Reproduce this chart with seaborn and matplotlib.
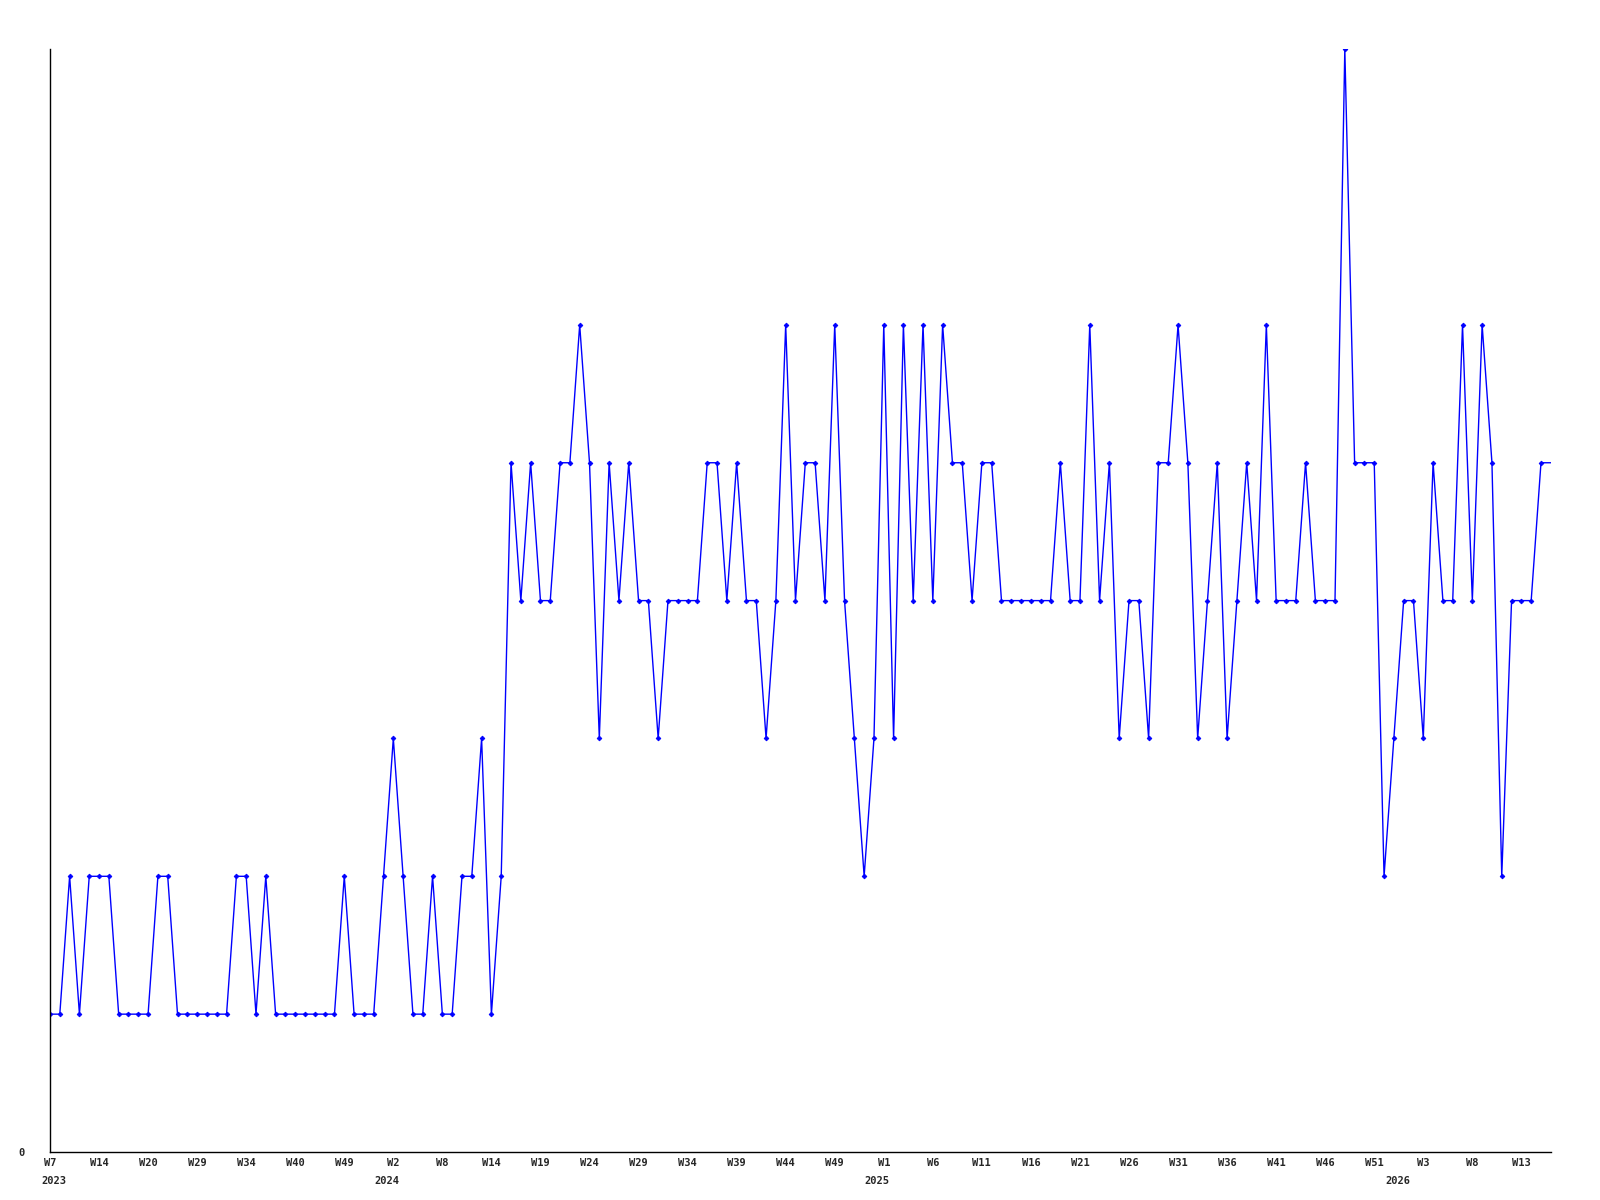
import matplotlib
matplotlib.use("Agg")
import matplotlib.pyplot as plt
import seaborn as sns
import numpy as np

# valores semanales (W7 2023 -> 2026)
valores = [1, 1, 2, 1, 2, 2, 2, 1, 1, 1, 1, 2, 2, 1, 1, 1, 1, 1, 1, 2, 2, 1,
           2, 1, 1, 1, 1, 1, 1, 1, 2, 1, 1, 1, 2, 3, 2, 1, 1, 2, 1, 1, 2, 2,
           3, 1, 2, 5, 4, 5, 4, 4, 5, 5, 6, 5, 3, 5, 4, 5, 4, 4, 3, 4, 4, 4,
           4, 5, 5, 4, 5, 4, 4, 3, 4, 6, 4, 5, 5, 4, 6, 4, 3, 2, 3, 6, 3, 6,
           4, 6, 4, 6, 5, 5, 4, 5, 5, 4, 4, 4, 4, 4, 4, 5, 4, 4, 6, 4, 5, 3,
           4, 4, 3, 5, 5, 6, 5, 3, 4, 5, 3, 4, 5, 4, 6, 4, 4, 4, 5, 4, 4, 4,
           8, 5, 5, 5, 2, 3, 4, 4, 3, 5, 4, 4, 6, 4, 6, 5, 2, 4, 4, 4, 5, 5]

semanas = ["W7", "W14", "W20", "W29", "W34", "W40", "W49", "W2", "W8", "W14",
           "W19", "W24", "W29", "W34", "W39", "W44", "W49", "W1", "W6", "W11",
           "W16", "W21", "W26", "W31", "W36", "W41", "W46", "W51", "W3", "W8",
           "W13"]

anios = ["2023", "2024", "2025", "2026"]
anios_idx = [0.4, 34.3, 84.3, 137.4]

sns.set_style("white")
plt.rcParams['font.family'] = ['DejaVu Sans Mono']
plt.rcParams['font.weight'] = 'bold'

fig = plt.figure(figsize=(16, 12), dpi=100)
ax = fig.add_axes([0.03125, 0.04, 0.938, 0.919])

x = np.arange(len(valores))
sns.lineplot(x=x, y=valores, ax=ax, color="#0000ff", linewidth=1.0,
             marker="D", markersize=2.4, markeredgewidth=0.6,
             markeredgecolor="#0000ff", markevery=list(range(len(valores) - 1)))

ax.set_xlim(0, len(valores) - 1)
ax.set_ylim(0, 8)

ax.set_xticks(np.arange(0, len(valores), 5)[:len(semanas)])
ax.set_xticklabels(semanas, fontsize=7.5, fontweight='bold')
ax.set_yticks([0])
ax.set_yticklabels(["0"], fontsize=7.5, fontweight='bold')
ax.tick_params(axis='x', length=0, pad=4.5)
ax.tick_params(axis='y', length=0, pad=18)

for a, xi in zip(anios, anios_idx):
    ax.text(xi, -0.0262, a, transform=ax.get_xaxis_transform(),
            ha='center', va='center', fontsize=7.5, fontweight='bold')

sns.despine(ax=ax)
ax.spines['left'].set_color('black')
ax.spines['bottom'].set_color('black')
ax.spines['left'].set_linewidth(1.0)
ax.spines['bottom'].set_linewidth(1.0)
ax.set_xlabel("")
ax.set_ylabel("")
ax.grid(False)

plt.savefig("out.png", dpi=100, facecolor="white")
